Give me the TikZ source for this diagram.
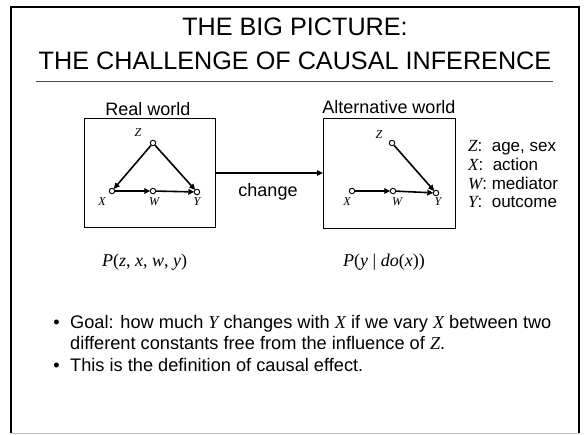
\documentclass[tikz,border=0pt]{standalone}
\usepackage{fontspec}
\setmainfont{Liberation Sans}
\newfontfamily\tms{Liberation Serif}
\usetikzlibrary{arrows.meta}
\tikzset{
  vnode/.style={circle,draw,fill=white,line width=0.9pt,inner sep=0pt,minimum size=5.5pt},
  edge/.style={line width=1.6pt,-{Triangle[length=6pt,width=5.5pt]},shorten >=-0.5pt},
  vlab/.style={font=\tms\itshape\fontsize{12}{12}\selectfont,inner sep=0pt},
  box/.style={draw,line width=0.8pt},
  body/.style={font=\fontsize{18.2}{21}\selectfont,anchor=base west,inner sep=0pt},
  legend/.style={font=\fontsize{17}{17}\selectfont,anchor=base west,inner sep=0pt},
  formula/.style={font=\tms\fontsize{18}{18}\selectfont,anchor=base west,inner sep=0pt},
  heading/.style={font=\fontsize{25.2}{25.2}\selectfont,anchor=base,inner sep=0pt}
}
\begin{document}
\begin{tikzpicture}[x=1pt,y=-1pt]
\useasboundingbox (0,0) rectangle (585,435);
% slide frame
\draw[line width=1.6pt] (11,433) -- (11,7) -- (579,7) -- (579,433);
\draw[black!25,line width=0.8pt] (11,433) -- (579,433);
% title
\node[heading] (t1) at (295,36) {THE BIG PICTURE:};
\node[heading] (t2) at (295,70) {THE CHALLENGE OF CAUSAL INFERENCE};
\draw[black!70,line width=0.8pt] (36,81) -- (553,81);
% boxes
\node[box,minimum width=131pt,minimum height=109pt,inner sep=0pt,anchor=north west] (lb) at (84,118) {};
\node[box,minimum width=132pt,minimum height=110pt,inner sep=0pt,anchor=north west] (rb) at (323,118) {};
\node[font=\fontsize{18}{18}\selectfont,anchor=base,inner sep=0pt] (rw) at (148,116) {Real world};
\node[font=\fontsize{18}{18}\selectfont,anchor=base,inner sep=0pt] (aw) at (389,114) {Alternative world};
% change arrow
\coordinate (ca) at (216,173);
\coordinate (cb) at (323,173);
\draw[line width=1.6pt,-{Triangle[length=6pt,width=5.5pt]}] (ca) -- (cb);
\node[font=\fontsize{18}{18}\selectfont,inner sep=0pt] (chg) at (268,192) {change};
% left graph
\node[vnode] (lz) at (153,143) {};
\node[vnode] (lx) at (112,191) {};
\node[vnode] (lw) at (153,191) {};
\node[vnode] (ly) at (197,192) {};
\node[vlab] (lzl) at (138,133) {Z};
\node[vlab] (lxl) at (102,202) {X};
\node[vlab] (lwl) at (154,202) {W};
\node[vlab] (lyl) at (197,202) {Y};
\draw[edge] (lz) -- (lx);
\draw[edge] (lz) -- (ly);
\draw[edge] (lx) -- (lw);
\draw[edge] (lw) -- (ly);
% right graph
\node[vnode] (rz) at (392,143) {};
\node[vnode] (rx) at (352,191) {};
\node[vnode] (rw2) at (393,191) {};
\node[vnode] (ry) at (436,193) {};
\node[vlab] (rzl) at (379,135) {Z};
\node[vlab] (rxl) at (347,202) {X};
\node[vlab] (rwl) at (397,202) {W};
\node[vlab] (ryl) at (438,202) {Y};
\draw[edge] (rz) -- (ry);
\draw[edge] (rx) -- (rw2);
\draw[edge] (rw2) -- (ry);
% legend
\node[legend] (l1) at (468,152) {{\tms\itshape Z}:\ \ age, sex};
\node[legend] (l2) at (468,170.6) {{\tms\itshape X}:\ \ action};
\node[legend] (l3) at (468,189.2) {{\tms\itshape W}: mediator};
\node[legend] (l4) at (468,207.8) {{\tms\itshape Y}:\ \ outcome};
% formulas
\node[formula] (pj) at (102,266) {\textit{P}(\textit{z}, \textit{x}, \textit{w}, \textit{y})};
\node[formula] (pd) at (343,266) {\textit{P}(\textit{y} | \textit{do}(\textit{x}))};
% bullets
\node[body,anchor=base east] (b1) at (60,328) {\textbullet};
\node[body] (g1) at (70,328) {Goal: how much {\tms\itshape Y} changes with {\tms\itshape X} if we vary {\tms\itshape X} between two};
\node[body] (g2) at (70,349) {different constants free from the influence of {\tms\itshape Z}.};
\node[body,anchor=base east] (b2) at (60,371) {\textbullet};
\node[body] (g3) at (70,371) {This is the definition of causal effect.};
\end{tikzpicture}
\end{document}
